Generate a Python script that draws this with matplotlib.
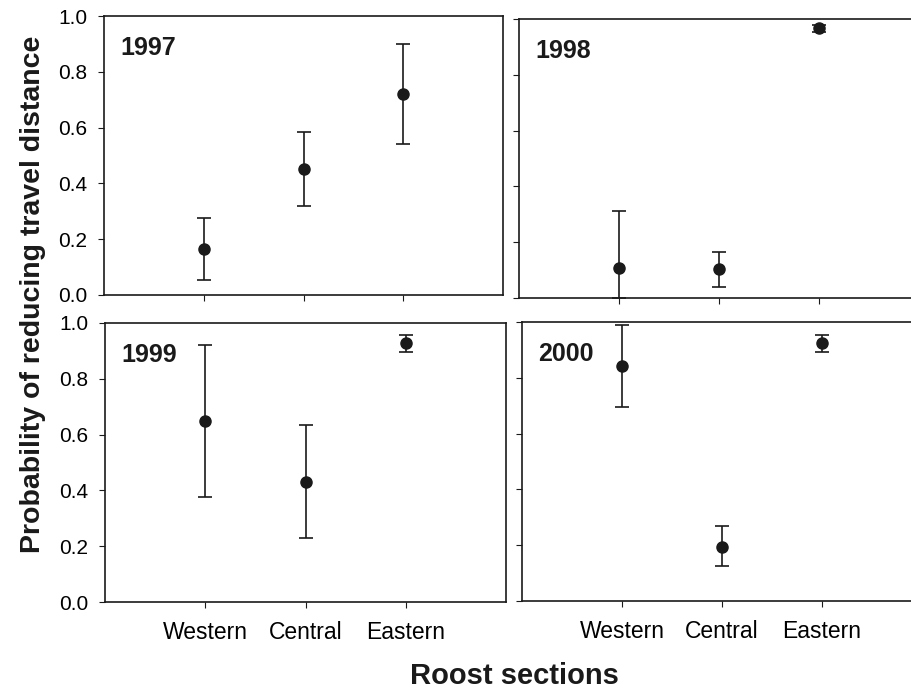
import matplotlib.pyplot as plt

plt.rcParams["font.family"] = ["Liberation Sans", "DejaVu Sans"]

# -----------------------------
# Data
# -----------------------------
sections = ["Western", "Central", "Eastern"]
years = ["1997", "1998", "1999", "2000"]

prob_1997 = [0.164, 0.450, 0.722]
upper_1997 = [0.275, 0.584, 0.900]
lower_1997 = [0.054, 0.318, 0.542]

prob_1998 = [0.109, 0.103, 0.968]
upper_1998 = [0.311, 0.166, 0.980]
lower_1998 = [0.000, 0.038, 0.955]

prob_1999 = [0.649, 0.431, 0.927]
upper_1999 = [0.921, 0.634, 0.956]
lower_1999 = [0.375, 0.228, 0.897]

prob_2000 = [0.843, 0.195, 0.925]
upper_2000 = [0.989, 0.269, 0.952]
lower_2000 = [0.697, 0.125, 0.894]

panels = [
    (years[0], prob_1997, upper_1997, lower_1997),
    (years[1], prob_1998, upper_1998, lower_1998),
    (years[2], prob_1999, upper_1999, lower_1999),
    (years[3], prob_2000, upper_2000, lower_2000),
]

W, H = 911, 691
fig = plt.figure(figsize=(W / 100, H / 100), dpi=100)

# axes boxes in pixels: left, top, width, height
boxes = [
    (104, 16, 399, 279),
    (519, 19, 400, 279),
    (105, 323, 401, 279),
    (522, 322, 400, 279),
]

DARK = "#1a1a1a"
x_pos = [1, 2, 3]

for i, ((year, p, up, lo), (l, t, w, h)) in enumerate(zip(panels, boxes)):
    ax = fig.add_axes([l / W, 1 - (t + h) / H, w / W, h / H])
    yerr = [[pv - lv for pv, lv in zip(p, lo)], [uv - pv for pv, uv in zip(p, up)]]
    ax.errorbar(x_pos, p, yerr=yerr, fmt="o", color=DARK, ecolor=DARK,
                markersize=8, elinewidth=1.2, capsize=5, capthick=1.2)
    ax.set_xlim(0, 4)
    ax.set_ylim(0, 1)
    ax.set_xticks(x_pos)
    ax.set_yticks([0, 0.2, 0.4, 0.6, 0.8, 1.0])
    for sp in ax.spines.values():
        sp.set_color(DARK)
        sp.set_linewidth(1.2)
    ax.tick_params(direction="out", length=4, width=0.8, color=DARK,
                   labelsize=15, pad=8)

    # y labels only on the left column
    if i % 2 == 0:
        ax.set_yticklabels(["0.0", "0.2", "0.4", "0.6", "0.8", "1.0"])
    else:
        ax.set_yticklabels([])

    # x labels only on the bottom row
    if i >= 2:
        ax.set_xticklabels(sections, fontsize=16.5)
        ax.tick_params(axis="x", pad=10)
    else:
        ax.set_xticklabels([])

    ax.text(0.04, 0.93, year, transform=ax.transAxes, fontsize=18,
            fontweight="bold", va="top", ha="left", color=DARK)

fig.text(33 / W, 1 - 294 / H, "Probability of reducing travel distance",
         rotation=90, ha="center", va="center", fontsize=20.5,
         fontweight="bold", color=DARK)
fig.text(514 / W, 1 - 676 / H, "Roost sections", ha="center", va="center",
         fontsize=21, fontweight="bold", color=DARK)

plt.savefig("out.png", dpi=100)
